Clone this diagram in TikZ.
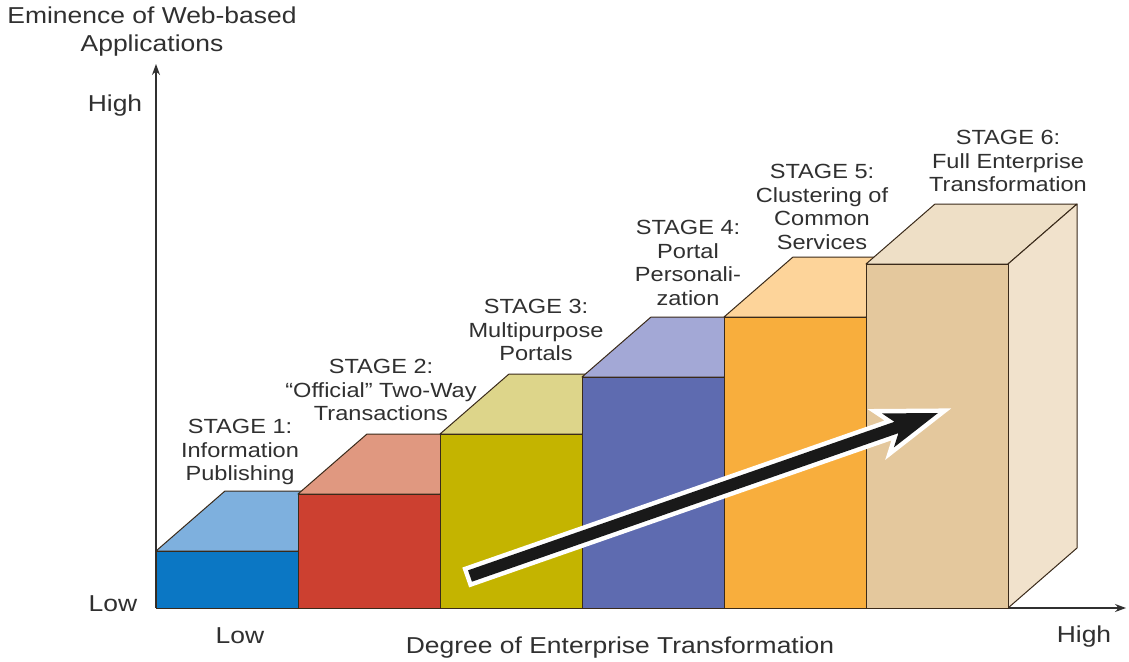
\documentclass[tikz,border=0pt]{standalone}
\usepackage{fontspec}
\setmainfont[FakeStretch=1.15]{Liberation Sans}
\usetikzlibrary{calc,arrows.meta}
\definecolor{txt}{HTML}{303030}
\definecolor{edge}{HTML}{3A2A1A}
\definecolor{f1}{HTML}{0B77C4}\definecolor{t1}{HTML}{7EB0DE}
\definecolor{f2}{HTML}{CC4030}\definecolor{t2}{HTML}{E09880}
\definecolor{f3}{HTML}{C4B400}\definecolor{t3}{HTML}{DDD58A}
\definecolor{f4}{HTML}{5E6BB0}\definecolor{t4}{HTML}{A3A8D6}
\definecolor{f5}{HTML}{F8AE3D}\definecolor{t5}{HTML}{FDD49A}
\definecolor{f6}{HTML}{E4C89D}\definecolor{t6}{HTML}{EEDFC6}\definecolor{s6}{HTML}{F1E2CC}
\begin{document}
\begin{tikzpicture}[x=1pt,y=-1pt,
  face/.style={draw=edge,line width=1pt,line join=round},
  lbl/.style={align=center,text=txt,inner sep=0pt,font=\fontsize{20.5}{23.5}\selectfont},
  axlbl/.style={align=center,text=txt,inner sep=0pt,font=\fontsize{23}{28}\selectfont},
  axis/.style={draw=txt,line width=1.1pt,-{Stealth[length=11pt,width=8pt]}}]
\useasboundingbox (0,0) rectangle (1129,661);
\fill[white] (0,0) rectangle (1129,661);

% axes
\coordinate (O) at (156,608);
\coordinate (Ytip) at (156,64);
\coordinate (Xtip) at (1126,608);
\draw[axis] (O) -- (Ytip);
\draw[axis] (O) -- (Xtip);

% stage 1
\path[face,fill=t1] (156,551) -- (298,551) -- (367,491) -- (225,491) -- cycle;
\path[face,fill=f1] (156,551) rectangle (298,608);
% stage 2
\path[face,fill=t2] (298,494) -- (440,494) -- (509,434) -- (367,434) -- cycle;
\path[face,fill=f2] (298,494) rectangle (440,608);
% stage 3
\path[face,fill=t3] (440,434) -- (582,434) -- (651,374) -- (509,374) -- cycle;
\path[face,fill=f3] (440,434) rectangle (582,608);
% stage 4
\path[face,fill=t4] (582,377) -- (724,377) -- (793,317) -- (651,317) -- cycle;
\path[face,fill=f4] (582,377) rectangle (724,608);
% stage 5
\path[face,fill=t5] (724,317) -- (866,317) -- (935,257) -- (793,257) -- cycle;
\path[face,fill=f5] (724,317) rectangle (866,608);
% stage 6
\path[face,fill=t6] (866,264) -- (1008,264) -- (1077,204) -- (935,204) -- cycle;
\path[face,fill=s6] (1008,264) -- (1077,204) -- (1077,548) -- (1008,608) -- cycle;
\path[face,fill=f6] (866,264) rectangle (1008,608);

% big arrow
\coordinate (A) at (470,576);
\coordinate (B) at (938,413);
\coordinate (H) at ($(B)!44pt!(A)$);
\coordinate (N) at ($(B)!53pt!(A)$);
\def\arrowshape{($(A)!6pt!90:(B)$) -- ($(H)!6pt!-90:(A)$) -- ($(N)!18pt!-90:(A)$) -- (B)
  -- ($(N)!18pt!90:(A)$) -- ($(H)!6pt!90:(A)$) -- ($(A)!6pt!-90:(B)$) -- cycle}
\path[fill=white,draw=white,line width=9pt,line join=miter,miter limit=10] \arrowshape;
\path[fill=black!90] \arrowshape;

% stage labels
\node[lbl] (s1) at (240,452) {STAGE 1:\\Information\\Publishing};
\node[lbl] (s2) at (381,390) {STAGE 2:\\“Official” Two-Way\\Transactions};
\node[lbl] (s3) at (536,330) {STAGE 3:\\Multipurpose\\Portals};
\node[lbl] (s4) at (688,263) {STAGE 4:\\Portal\\Personali-\\zation};
\node[lbl] (s5) at (822,207) {STAGE 5:\\Clustering of\\Common\\Services};
\node[lbl] (s6) at (1008,161) {STAGE 6:\\Full Enterprise\\Transformation};

% axis labels
\node[axlbl] (ytitle) at (152,32) {Eminence of Web-based\\Applications};
\node[axlbl] (yhigh) at (115,106) {High};
\node[axlbl] (ylow) at (113,604) {Low};
\node[axlbl] (xlow) at (240,636) {Low};
\node[axlbl] (xhigh) at (1084,637) {High};
\node[axlbl] (xtitle) at (620,648) {Degree of Enterprise Transformation};
\end{tikzpicture}
\end{document}
